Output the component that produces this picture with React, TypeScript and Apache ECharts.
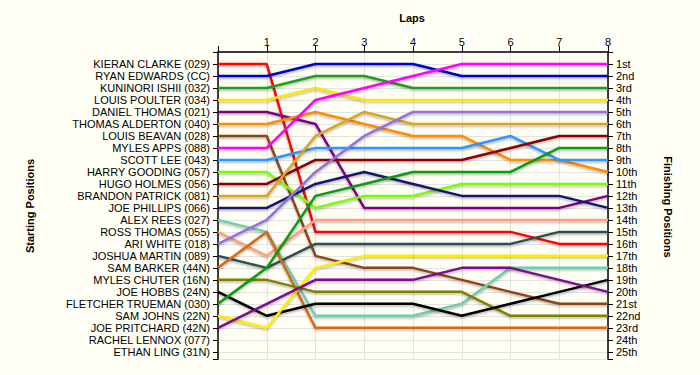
import React, { useEffect, useRef } from "react";
import * as echarts from "echarts";

const laps = [0, 1, 2, 3, 4, 5, 6, 7, 8];
const lapTickLabels = ["", "1", "2", "3", "4", "5", "6", "7", "8"];

const drivers = [
  "KIERAN CLARKE (029)",
  "RYAN EDWARDS (CC)",
  "KUNINORI ISHII (032)",
  "LOUIS POULTER (034)",
  "DANIEL THOMAS (021)",
  "THOMAS ALDERTON (040)",
  "LOUIS BEAVAN (028)",
  "MYLES APPS (088)",
  "SCOTT LEE (043)",
  "HARRY GOODING (057)",
  "HUGO HOLMES (056)",
  "BRANDON PATRICK (081)",
  "JOE PHILLIPS (066)",
  "ALEX REES (027)",
  "ROSS THOMAS (055)",
  "ARI WHITE (018)",
  "JOSHUA MARTIN (089)",
  "SAM BARKER (44N)",
  "MYLES CHUTER (16N)",
  "JOE HOBBS (24N)",
  "FLETCHER TRUEMAN (030)",
  "SAM JOHNS (22N)",
  "JOE PRITCHARD (42N)",
  "RACHEL LENNOX (077)",
  "ETHAN LING (31N)",
];

const finishLabels = [
  "1st", "2nd", "3rd", "4th", "5th", "6th", "7th", "8th", "9th", "10th",
  "11th", "12th", "13th", "14th", "15th", "16th", "17th", "18th", "19th", "20th",
  "21st", "22nd", "23rd", "24th", "25th",
];

// positions by lap (lap 0 = start)
const kieranClarke = [1, 1, 15, 15, 15, 15, 15, 16, 16];
const ryanEdwards = [2, 2, 1, 1, 1, 2, 2, 2, 2];
const kuninoriIshii = [3, 3, 2, 2, 3, 3, 3, 3, 3];
const louisPoulter = [4, 4, 3, 4, 4, 4, 4, 4, 4];
const danielThomas = [5, 5, 6, 13, 13, 13, 13, 13, 12];
const thomasAlderton = [6, 6, 5, 6, 7, 7, 9, 9, 10];
const louisBeavan = [7, 7, 17, 18, 18, 19, 20, 21, 21];
const mylesApps = [8, 8, 4, 3, 2, 1, 1, 1, 1];
const scottLee = [9, 9, 8, 8, 8, 8, 7, 9, 9];
const harryGooding = [10, 10, 13, 12, 12, 11, 11, 11, 11];
const hugoHolmes = [11, 11, 9, 9, 9, 9, 8, 7, 7];
const brandonPatrick = [12, 12, 7, 5, 6, 6, 6, 6, 6];
const joePhillips = [13, 13, 11, 10, 11, 12, 12, 12, 13];
const alexRees = [14, 15, 22, 22, 22, 21, 18, 18, 18];
const rossThomas = [15, 17, 14, 14, 14, 14, 14, 14, 14];
const ariWhite = [16, 14, 10, 7, 5, 5, 5, 5, 5];
const joshuaMartin = [17, 18, 16, 16, 16, 16, 16, 15, 15];
const samBarker = [18, 15, 23, 23, 23, 23, 23, 23, 23];
const mylesChuter = [19, 19, 20, 20, 20, 20, 22, 22, 22];
const joeHobbs = [20, 22, 21, 21, 21, 22, 21, 20, 19];
const fletcherTrueman = [21, 18, 12, 11, 10, 10, 10, 8, 8];
const samJohns = [22, 23, 18, 17, 17, 17, 17, 17, 17];
const joePritchard = [23, 21, 19, 19, 19, 18, 18, 19, 20];
const rachelLennox = [24, 24, 24, 24, 24, 24, 24, 24];
const ethanLing: number[] = [];

const positions = [
  kieranClarke, ryanEdwards, kuninoriIshii, louisPoulter, danielThomas,
  thomasAlderton, louisBeavan, mylesApps, scottLee, harryGooding,
  hugoHolmes, brandonPatrick, joePhillips, alexRees, rossThomas,
  ariWhite, joshuaMartin, samBarker, mylesChuter, joeHobbs,
  fletcherTrueman, samJohns, joePritchard, rachelLennox, ethanLing,
];

const colors = [
  "#ff0000", "#0000cd", "#1fa01f", "#ffe400", "#800080",
  "#ff8c00", "#8b4513", "#ff00ff", "#2e96ff", "#7cfc00",
  "#8b0000", "#daa520", "#191970", "#6fcdb0", "#ffa07a",
  "#9370db", "#2f4f4f", "#d2691e", "#808000", "#000000",
  "#0f9a0f", "#ffee00", "#7d0a8a", "#f7953a", "#999999",
];

const FONT = "'Liberation Sans', Arial, sans-serif";

export default function App() {
  const ref = useRef<HTMLDivElement>(null);
  useEffect(() => {
    if (!ref.current) return;
    const chart = echarts.init(ref.current, undefined, { renderer: "svg" });
    const series = drivers.map((name, i) => ({
      name,
      type: "line",
      yAxisIndex: 0,
      showSymbol: false,
      symbol: "none",
      data: positions[i].map((p, k) => [laps[k], p]),
      lineStyle: {
        color: colors[i],
        width: 2.5,
        shadowColor: "rgba(0,0,0,0.3)",
        shadowBlur: 2,
        shadowOffsetY: 1.5,
      },
      itemStyle: { color: colors[i] },
      z: 3,
    }));
    const yBase = {
      type: "value",
      inverse: true,
      min: 0,
      max: 25.6,
      interval: 1,
      axisLine: { show: true, lineStyle: { color: "#000", width: 1.5 } },
      axisTick: { show: true, length: 5, lineStyle: { color: "#000" } },
    };
    chart.setOption({
      animation: false,
      backgroundColor: "#fffff5",
      textStyle: { fontFamily: FONT },
      grid: { left: 218, right: 92, top: 52, bottom: 16 },
      xAxis: {
        type: "value",
        position: "top",
        min: 0,
        max: 8,
        interval: 1,
        axisLine: { show: true, lineStyle: { color: "#000", width: 1.5 } },
        axisTick: { show: true, length: 6, lineStyle: { color: "#000" } },
        axisLabel: {
          color: "#000",
          fontSize: 11,
          fontFamily: FONT,
          margin: 5,
          formatter: (v: number) => lapTickLabels[v] ?? "",
        },
        splitLine: { show: true, lineStyle: { color: "#e3e3e3", width: 1 } },
      },
      yAxis: [
        {
          ...yBase,
          position: "left",
          axisLabel: {
            color: "#000",
            fontSize: 11,
            fontFamily: FONT,
            margin: 8,
            formatter: (v: number) => drivers[v - 1] ?? "",
          },
          splitLine: { show: true, lineStyle: { color: "#e3e3e3", width: 1 } },
        },
        {
          ...yBase,
          position: "right",
          axisLabel: {
            color: "#000",
            fontSize: 11,
            fontFamily: FONT,
            margin: 8,
            formatter: (v: number) => finishLabels[v - 1] ?? "",
          },
          splitLine: { show: false },
        },
      ],
      graphic: [
        {
          type: "text",
          x: 412,
          y: 18,
          style: {
            text: "Laps",
            fontFamily: FONT,
            fontSize: 11,
            fontWeight: "bold",
            fill: "#000",
            textAlign: "center",
            textVerticalAlign: "middle",
          },
        },
        {
          type: "text",
          x: 30,
          y: 206,
          rotation: Math.PI / 2,
          style: {
            text: "Starting Positions",
            fontFamily: FONT,
            fontSize: 11,
            fontWeight: "bold",
            fill: "#000",
            textAlign: "center",
            textVerticalAlign: "middle",
          },
        },
        {
          type: "text",
          x: 668,
          y: 207,
          rotation: -Math.PI / 2,
          style: {
            text: "Finishing Positions",
            fontFamily: FONT,
            fontSize: 11,
            fontWeight: "bold",
            fill: "#000",
            textAlign: "center",
            textVerticalAlign: "middle",
          },
        },
      ],
      series,
    });
    return () => chart.dispose();
  }, []);
  return (
    <div
      ref={ref}
      style={{ position: "fixed", left: 0, top: 0, width: 700, height: 375 }}
    />
  );
}
